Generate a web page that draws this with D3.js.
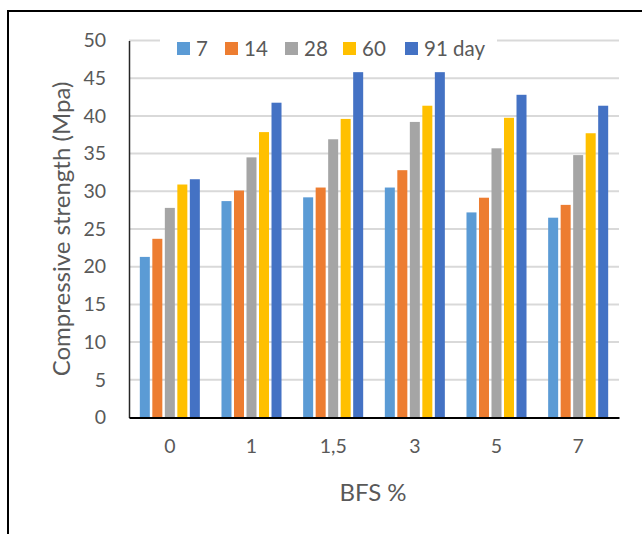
<!DOCTYPE html>
<html>
<head>
<meta charset="utf-8">
<script src="https://cdn.jsdelivr.net/npm/d3@7"></script>
<style>
  html, body { margin: 0; padding: 0; background: #fff; }
  svg { display: block; }
  text { font-family: Lato, "Open Sans", sans-serif; fill: #595959; }
</style>
</head>
<body>
<svg id="chart" width="642" height="534"></svg>
<script>
const categories = ["0", "1", "1,5", "3", "5", "7"];
const seriesNames = ["7", "14", "28", "60", "91 day"];
const seriesColors = ["#5B9BD5", "#ED7D31", "#A5A5A5", "#FFC000", "#4472C4"];
const day7  = [21.3, 28.7, 29.2, 30.5, 27.2, 26.5];
const day14 = [23.7, 30.1, 30.5, 32.8, 29.15, 28.2];
const day28 = [27.8, 34.5, 36.9, 39.2, 35.7, 34.8];
const day60 = [30.9, 37.85, 39.6, 41.35, 39.75, 37.7];
const day91 = [31.6, 41.75, 45.8, 45.8, 42.8, 41.35];
const yTicks = [0, 5, 10, 15, 20, 25, 30, 35, 40, 45, 50];
const yTitle = "Compressive strength (Mpa)";
const xTitle = "BFS %";

const seriesValues = [day7, day14, day28, day60, day91];

const svg = d3.select("#chart");
const plot = { left: 129, right: 619, top: 40.5, bottom: 417.5 };

// outer frame (left and top border)
svg.append("path")
  .attr("d", `M8,534 L8,11 L642,11`)
  .attr("fill", "none").attr("stroke", "#000").attr("stroke-width", 2);

const x = d3.scaleBand().domain(categories)
  .range([plot.left, plot.right]).paddingInner(0.265).paddingOuter(0.1325);
const xs = d3.scaleBand().domain(seriesNames)
  .range([0, x.bandwidth()]).paddingInner(0.2).paddingOuter(0);
const y = d3.scaleLinear().domain([0, 50]).range([plot.bottom, plot.top]);

// gridlines
svg.append("g").selectAll("line").data(yTicks.filter(d => d > 0)).join("line")
  .attr("x1", plot.left).attr("x2", plot.right)
  .attr("y1", d => y(d)).attr("y2", d => y(d))
  .attr("stroke", "#d9d9d9").attr("stroke-width", 2);

// bars
const groups = svg.append("g").selectAll("g").data(categories).join("g")
  .attr("transform", d => `translate(${x(d)},0)`);
groups.selectAll("rect")
  .data((c, i) => seriesNames.map((s, j) => ({ s, j, v: seriesValues[j][i] })))
  .join("rect")
  .attr("x", d => xs(d.s))
  .attr("width", xs.bandwidth())
  .attr("y", d => y(d.v))
  .attr("height", d => y(0) - y(d.v))
  .attr("fill", d => seriesColors[d.j]);

// y axis
const yAxis = d3.axisLeft(y).tickValues(yTicks).tickSize(0).tickPadding(23);
const yg = svg.append("g").attr("transform", `translate(${plot.left},0)`).call(yAxis);
yg.select(".domain").attr("stroke", "#262626").attr("stroke-width", 1.5);
yg.selectAll("text").attr("font-size", 19.5).style("fill", "#595959")
  .style("font-family", "Lato, sans-serif");

// x axis
const xAxis = d3.axisBottom(x).tickSize(0).tickPadding(22);
const xg = svg.append("g").attr("transform", `translate(0,${plot.bottom})`).call(xAxis);
xg.select(".domain").attr("stroke", "#000").attr("stroke-width", 2);
xg.selectAll("text").attr("font-size", 19.5).style("fill", "#595959")
  .style("font-family", "Lato, sans-serif");

// axis titles
svg.append("text")
  .attr("transform", `translate(70,229) rotate(-90)`)
  .attr("text-anchor", "middle")
  .attr("font-size", 24)
  .text(yTitle);
svg.append("text")
  .attr("x", 373).attr("y", 501)
  .attr("text-anchor", "middle")
  .attr("font-size", 24)
  .text(xTitle);

// legend
const legendX = [177, 225, 285, 343, 405];
svg.append("rect").attr("x", 160).attr("y", 36).attr("width", 337).attr("height", 24).attr("fill", "#fff");
const lg = svg.append("g").selectAll("g").data(seriesNames).join("g")
  .attr("transform", (d, i) => `translate(${legendX[i]},0)`);
lg.append("rect").attr("x", 0).attr("y", 42).attr("width", 13).attr("height", 13)
  .attr("fill", (d, i) => seriesColors[i]);
lg.append("text").attr("x", 19).attr("y", 55.5).attr("font-size", 20.5).text(d => d);
</script>
</body>
</html>
